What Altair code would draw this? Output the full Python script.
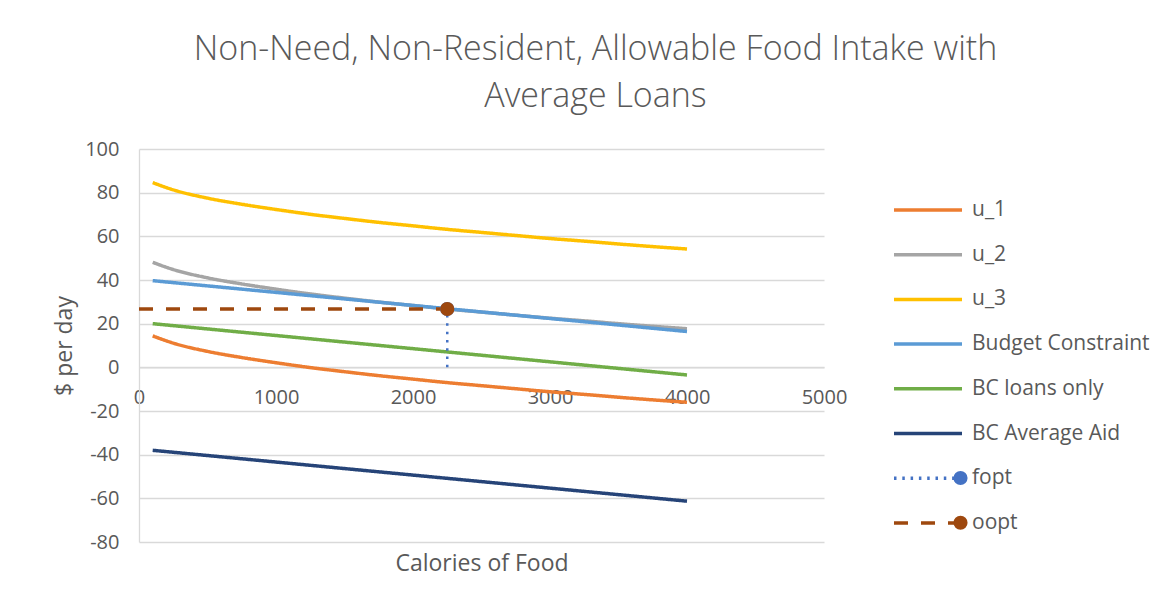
import altair as alt
import pandas as pd

# ---- data ----
x_curve = [100, 250, 500, 750, 1000, 1250, 1500, 1750, 2000, 2250, 2500,
           2750, 3000, 3250, 3500, 3750, 4000]
u_1 = [14.4, 11.1, 7.3, 4.5, 2.1, -0.1, -2.0, -3.8, -5.4, -7.0, -8.4,
       -9.8, -11.2, -12.4, -13.7, -14.9, -16.0]
u_2 = [48.1, 44.8, 41.0, 38.2, 35.8, 33.6, 31.7, 29.9, 28.3, 26.7, 25.3,
       23.9, 22.5, 21.3, 20.0, 18.8, 17.7]
u_3 = [84.6, 81.3, 77.5, 74.7, 72.3, 70.1, 68.2, 66.4, 64.8, 63.2, 61.8,
       60.4, 59.0, 57.8, 56.5, 55.3, 54.2]

x_line = [100, 4000]
budget = [39.7, 16.4]
bc_loans = [20.0, -3.5]
bc_aid = [-38.0, -61.3]

fopt_x = [2250, 2250]
fopt_y = [0, 26.7]
oopt_x = [0, 2250]
oopt_y = [26.7, 26.7]

marker_names = ["fopt", "oopt"]
marker_x = [2250, 2250]
marker_y = [26.7, 26.7]

series_names = ["u_1", "u_2", "u_3", "Budget Constraint", "BC loans only",
                "BC Average Aid", "fopt", "oopt"]
series_colors = ["#ED7D31", "#A5A5A5", "#FFC000", "#5B9BD5", "#70AD47",
                 "#264478", "#4472C4", "#9E480E"]
series_dash = [[1, 0], [1, 0], [1, 0], [1, 0], [1, 0], [1, 0], [2.5, 5.8], [14, 13]]
marker_colors = ["#4472C4", "#9E480E"]

x_ticks = [0, 1000, 2000, 3000, 4000, 5000]
y_ticks = [-80, -60, -40, -20, 0, 20, 40, 60, 80, 100]

# ---- tables ----
rows = []
for name, ys in [("u_1", u_1), ("u_2", u_2), ("u_3", u_3)]:
    for i, (xv, yv) in enumerate(zip(x_curve, ys)):
        rows.append({"series": name, "x": xv, "y": yv, "o": i})
for name, ys in [("Budget Constraint", budget), ("BC loans only", bc_loans),
                 ("BC Average Aid", bc_aid)]:
    for i, (xv, yv) in enumerate(zip(x_line, ys)):
        rows.append({"series": name, "x": xv, "y": yv, "o": i})
curves = pd.DataFrame(rows)

fopt_df = pd.DataFrame({"series": "fopt", "x": fopt_x, "y": fopt_y, "o": [0, 1]})
oopt_df = pd.DataFrame({"series": "oopt", "x": oopt_x, "y": oopt_y, "o": [0, 1]})
markers = pd.DataFrame({"marker": marker_names, "x": marker_x, "y": marker_y})

TXT = "#595959"
GRID = "#D9D9D9"
FONT = "Open Sans"

xenc = alt.X("x:Q",
             scale=alt.Scale(domain=[0, 5000], nice=False, zero=False),
             axis=alt.Axis(values=x_ticks, grid=False, ticks=False,
                           domainColor=GRID, domainWidth=1.3,
                           offset=-174.7, labelPadding=20, labelFlush=False,
                           labelExpr="'' + datum.value",
                           labelFontSize=20, labelColor=TXT, labelFont=FONT,
                           title="Calories of Food", titleFont=FONT,
                           titleFontSize=23, titleFontWeight="normal",
                           titleColor=TXT, titleY=196, titleBaseline="middle"))
yenc = alt.Y("y:Q",
             scale=alt.Scale(domain=[-80, 100], nice=False, zero=False),
             axis=alt.Axis(values=y_ticks, grid=True, gridColor=GRID,
                           gridWidth=1.3, ticks=False, domainColor=GRID,
                           domainWidth=1.3, labelPadding=20,
                           labelExpr="'' + datum.value",
                           labelFontSize=20, labelColor=TXT, labelFont=FONT,
                           title="$ per day", titleFont=FONT, titleFontSize=23,
                           titleFontWeight="normal", titleColor=TXT,
                           titlePadding=8))

legend_kw = dict(title=None, orient="none", legendX=753, legendY=49,
                 symbolType="stroke", symbolSize=4624, symbolStrokeWidth=3.5,
                 clipHeight=24, rowPadding=20.7, labelFontSize=21,
                 labelFont=FONT, labelColor=TXT, labelOffset=8, padding=0,
                 labelLimit=400)

color = alt.Color("series:N",
                  scale=alt.Scale(domain=series_names, range=series_colors),
                  legend=alt.Legend(**legend_kw))
dash = alt.StrokeDash("series:N",
                      scale=alt.Scale(domain=series_names, range=series_dash),
                      legend=alt.Legend(**legend_kw))

curve_layer = alt.Chart(curves).mark_line(strokeWidth=3.5, interpolate="monotone").encode(
    x=xenc, y=yenc, color=color, strokeDash=dash, order="o:Q")
fopt_layer = alt.Chart(fopt_df).mark_line(strokeWidth=2.5).encode(
    x="x:Q", y="y:Q", color=color, strokeDash=dash, order="o:Q")
oopt_layer = alt.Chart(oopt_df).mark_line(strokeWidth=3.5).encode(
    x="x:Q", y="y:Q", color=color, strokeDash=dash, order="o:Q")
point_layer = alt.Chart(markers).mark_point(filled=True, size=200, opacity=1,
                                            strokeWidth=0).encode(
    x="x:Q", y="y:Q",
    fill=alt.Fill("marker:N",
                  scale=alt.Scale(domain=marker_names, range=marker_colors),
                  legend=alt.Legend(title=None, orient="none", legendX=814,
                                    legendY=317, symbolType="circle",
                                    symbolSize=200, symbolStrokeWidth=0,
                                    clipHeight=24, rowPadding=20.7,
                                    labelExpr="''", padding=0)),
    shape=alt.value("circle"))

chart = alt.layer(curve_layer, fopt_layer, oopt_layer, point_layer).properties(
    width=685, height=393,
    title=alt.TitleParams(
        text=["Non-Need, Non-Resident, Allowable Food Intake with", "Average Loans"],
        font=FONT, fontSize=34, fontWeight=300, color=TXT, anchor="middle",
        frame="group", dx=114, offset=25, lineHeight=47),
    autosize=alt.AutoSizeParams(type="none"),
    padding={"left": 131, "top": 141, "right": 340, "bottom": 59},
).configure(background="white").configure_view(stroke=None)

chart.save("out.html", embed_options={"renderer": "svg", "actions": False})
